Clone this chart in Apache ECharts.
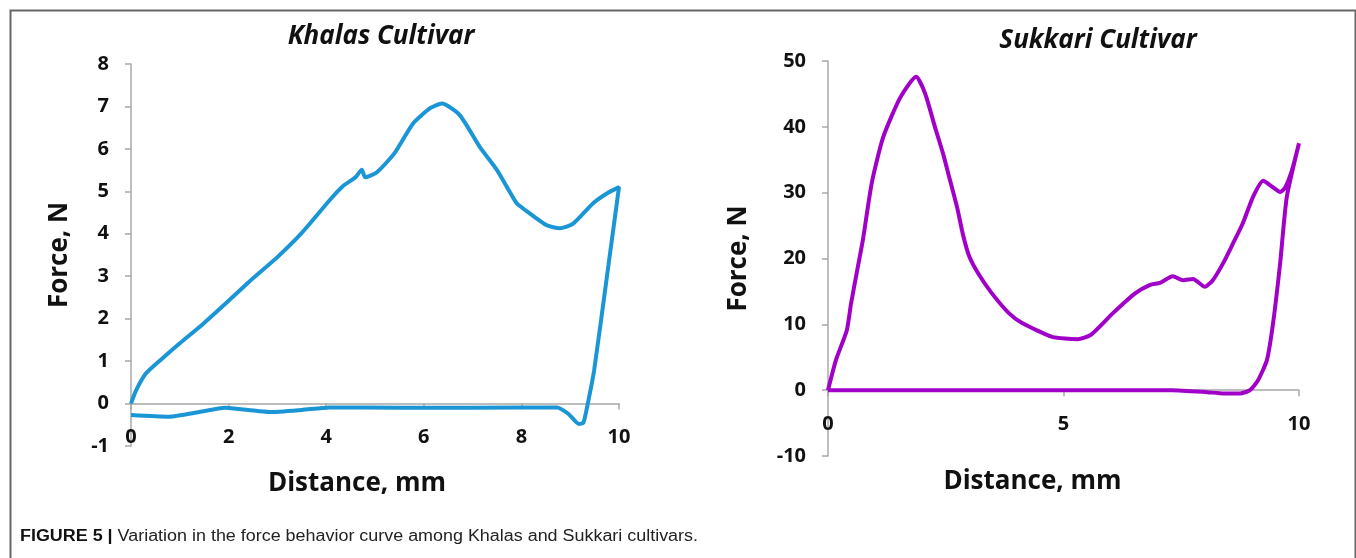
<!DOCTYPE html>
<html>
<head>
<meta charset="utf-8">
<script src="https://cdn.jsdelivr.net/npm/echarts@6/dist/echarts.min.js"></script>
<style>
  html, body { margin: 0; padding: 0; background: #fff; }
</style>
</head>
<body>
<div id="main" style="width: 1356px;height: 558px;background: #fff"></div>
<script>
// Khalas: loading path to 10 mm, then back along the return stroke
const khalasDist = [0, 0.1, 0.3, 0.6, 1.0, 1.5, 2.0, 2.5, 3.0, 3.5, 4.07, 4.34, 4.6, 4.73, 4.8, 5.04, 5.4, 5.78, 6.13, 6.37, 6.74, 7.15, 7.5, 7.9, 8.03, 8.52, 8.79, 9.06, 9.47, 9.75, 10.0,
  9.75, 9.49, 9.36, 9.27, 9.18, 8.96, 8.73, 7.0, 5.5, 4.07, 3.5, 2.83, 2.4, 1.93, 1.4, 0.78, 0]
const khalasForce = [0, 0.3, 0.7, 1.02, 1.42, 1.9, 2.42, 2.95, 3.45, 4.02, 4.79, 5.12, 5.33, 5.51, 5.33, 5.45, 5.9, 6.6, 6.96, 7.07, 6.79, 6.04, 5.5, 4.72, 4.6, 4.2, 4.13, 4.24, 4.72, 4.95, 5.1,
  2.97, 0.78, 0, -0.45, -0.48, -0.24, -0.09, -0.1, -0.1, -0.09, -0.15, -0.2, -0.15, -0.1, -0.2, -0.31, -0.27]

// Sukkari
const sukkariDist = [0, 0.17, 0.4, 0.49, 0.62, 0.74, 0.93, 1.17, 1.53, 1.87, 2.06, 2.27, 2.44, 2.55, 2.74, 2.87, 3.0, 3.2, 3.48, 3.84, 4.12, 4.76, 5.3, 5.58, 6.05, 6.52, 6.84, 7.05, 7.32, 7.54, 7.75, 8.0, 8.17, 8.39, 8.6, 8.81, 9.02, 9.24, 9.43, 9.6, 9.7, 9.85, 10.0,
  9.74, 9.6, 9.45, 9.32, 9.13, 8.96, 8.75, 8.4, 8.05, 7.3, 4.0, 0]
const sukkariForce = [0, 4.6, 9.1, 13.2, 18.2, 22.8, 31.5, 38.4, 44.4, 47.6, 45.1, 40, 36, 33, 27.8, 23.5, 20.3, 17.6, 14.7, 11.7, 10.2, 8.1, 7.75, 8.4, 11.7, 14.7, 16.0, 16.3, 17.3, 16.7, 16.9, 15.7, 16.7, 19.3, 22.3, 25.4, 29.3, 31.8, 30.9, 30.1, 30.7, 33.4, 37.5,
  29.3, 19.3, 10.2, 4.6, 1.5, 0, -0.5, -0.5, -0.3, 0, 0, 0]

const khalasTicks = { xMin: 0, xMax: 10, xStep: 2, yMin: -1, yMax: 8, yStep: 1 }
const sukkariTicks = { xMin: 0, xMax: 10, xStep: 5, yMin: -10, yMax: 50, yStep: 10 }

const pairs = (xs, ys) => xs.map((x, i) => [x, ys[i]])

const font = 'Open Sans'
const axisGray = '#a8a8a8'
const labelStyle = { fontFamily: font, fontWeight: 'bold', fontSize: 20, color: '#111' }
const nameStyle = { fontFamily: font, fontWeight: 'bold', fontSize: 26, color: '#111' }

// axis line + ticks sitting on y = 0
function zeroAxisOf (idx, t) {
  return {
    gridIndex: idx,
    type: 'value',
    position: 'bottom',
    min: t.xMin, max: t.xMax, interval: t.xStep,
    axisLine: { onZero: true, lineStyle: { color: axisGray, width: 1.5 } },
    axisTick: { show: true, length: 6, lineStyle: { color: axisGray, width: 1.5 } },
    axisLabel: { show: false },
    splitLine: { show: false }
  }
}

// labels and title of the same axis, placed from the grid's bottom edge
function labelAxisOf (idx, t, margin, gap, shift) {
  return {
    gridIndex: idx,
    type: 'value',
    position: 'bottom',
    min: t.xMin, max: t.xMax, interval: t.xStep,
    name: 'Distance, mm',
    nameLocation: 'middle',
    nameGap: gap,
    nameTextStyle: Object.assign({ padding: [0, shift, 0, 0] }, nameStyle),
    axisLine: { show: false, onZero: false },
    axisTick: { show: false },
    axisLabel: Object.assign({ margin: margin }, labelStyle),
    splitLine: { show: false }
  }
}

function yAxisOf (idx, t, gap) {
  return {
    gridIndex: idx,
    type: 'value',
    min: t.yMin, max: t.yMax, interval: t.yStep,
    name: 'Force, N',
    nameLocation: 'middle',
    nameGap: gap,
    nameTextStyle: nameStyle,
    axisLine: { show: true, onZero: false, lineStyle: { color: axisGray, width: 1.5 } },
    axisTick: { show: true, length: 6, lineStyle: { color: axisGray, width: 1.5 } },
    axisLabel: Object.assign({ margin: 22 }, labelStyle),
    splitLine: { show: false }
  }
}

const chart = echarts.init(document.getElementById('main'))
chart.setOption({
  backgroundColor: '#fff',
  animation: false,
  grid: [
    { left: 131, right: 737, top: 64, bottom: 112 },
    { left: 828, right: 57, top: 61, bottom: 102 }
  ],
  xAxis: [
    zeroAxisOf(0, khalasTicks),
    labelAxisOf(0, khalasTicks, -19, 25, 36),
    zeroAxisOf(1, sukkariTicks),
    labelAxisOf(1, sukkariTicks, -42, 13, 62)
  ],
  yAxis: [yAxisOf(0, khalasTicks, 58), yAxisOf(1, sukkariTicks, 76)],
  series: [
    {
      name: 'Khalas Cultivar',
      type: 'line',
      xAxisIndex: 0, yAxisIndex: 0,
      data: pairs(khalasDist, khalasForce),
      showSymbol: false,
      smooth: 0.2,
      lineStyle: { color: '#1a96d6', width: 4 }
    },
    {
      name: 'Sukkari Cultivar',
      type: 'line',
      xAxisIndex: 2, yAxisIndex: 1,
      data: pairs(sukkariDist, sukkariForce),
      showSymbol: false,
      smooth: 0.2,
      lineStyle: { color: '#a100c9', width: 4 }
    }
  ],
  graphic: [
    // frame round the figure
    { type: 'rect', left: 8, top: 8, shape: { width: 1345, height: 560 }, style: { fill: 'none', stroke: '#666', lineWidth: 2 }, silent: true },
    { type: 'text', x: 381, y: 37, style: { text: 'Khalas Cultivar', align: 'center', verticalAlign: 'middle', fontFamily: font, fontStyle: 'italic', fontWeight: 'bold', fontSize: 26, fill: '#111' } },
    { type: 'text', x: 1098, y: 41, style: { text: 'Sukkari Cultivar', align: 'center', verticalAlign: 'middle', fontFamily: font, fontStyle: 'italic', fontWeight: 'bold', fontSize: 26, fill: '#111' } },
    {
      type: 'text', x: 20, y: 537, scaleX: 1.12,
      style: {
        text: '{b|FIGURE 5 |} Variation in the force behavior curve among Khalas and Sukkari cultivars.',
        verticalAlign: 'middle',
        fontFamily: 'Liberation Sans', fontSize: 16, fill: '#222',
        rich: { b: { fontFamily: 'Liberation Sans', fontWeight: 'bold', fontSize: 16, fill: '#111' } }
      }
    }
  ]
})
</script>
</body>
</html>
